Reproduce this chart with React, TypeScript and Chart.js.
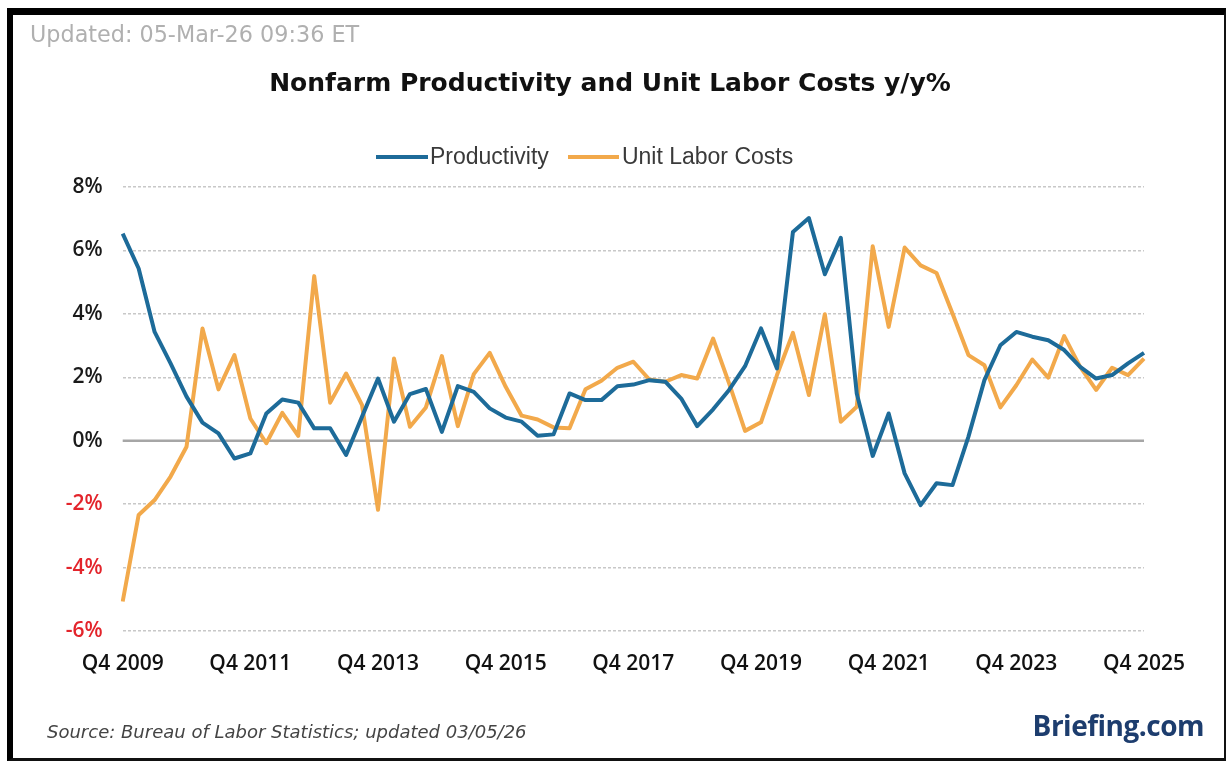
import React, { useEffect, useRef } from "react";
import { Chart, registerables } from "chart.js";

Chart.register(...registerables);

const startYear = 2009;
const endYear = 2025;
const quarters: string[] = [];
quarters.push("Q4 " + startYear);
for (let y = startYear + 1; y <= endYear; y++) {
  for (let q = 1; q <= 4; q++) quarters.push("Q" + q + " " + y);
}

const productivity = [
  6.53, 5.43, 3.43, 2.44, 1.39, 0.57, 0.23, -0.56, -0.4, 0.86, 1.3, 1.2, 0.39, 0.39, -0.45, 0.76,
  1.96, 0.6, 1.47, 1.63, 0.28, 1.72, 1.54, 1.02, 0.73, 0.6, 0.16, 0.2, 1.49, 1.28, 1.28, 1.72,
  1.77, 1.91, 1.86, 1.33, 0.46, 0.99, 1.6, 2.35, 3.54, 2.28, 6.58, 7.02, 5.25, 6.4, 1.49, -0.48,
  0.86, -1.03, -2.03, -1.34, -1.4, 0.13, 1.91, 3.01, 3.43, 3.28, 3.17, 2.86, 2.33, 1.96, 2.07, 2.44,
  2.77,
];

const unitLaborCosts = [
  -5.07, -2.34, -1.87, -1.13, -0.19, 3.54, 1.62, 2.7, 0.7, -0.08, 0.88, 0.15, 5.19, 1.2, 2.12, 1.12,
  -2.18, 2.59, 0.44, 1.05, 2.67, 0.46, 2.1, 2.77, 1.7, 0.79, 0.67, 0.42, 0.39, 1.62, 1.89, 2.3,
  2.49, 1.93, 1.86, 2.07, 1.96, 3.22, 1.81, 0.31, 0.58, 2.07, 3.4, 1.44, 3.99, 0.6, 1.07, 6.13,
  3.59, 6.09, 5.53, 5.29, 4.01, 2.7, 2.38, 1.05, 1.75, 2.56, 1.99, 3.3, 2.33, 1.6, 2.3, 2.07,
  2.59,
];

const seriesNames = ["Productivity", "Unit Labor Costs"];
const seriesColors = ["#1d6b99", "#f2a94b"];
const yMin = -6;
const yMax = 8;
const yStep = 2;
const tickEvery = 8;

const titleText = "Nonfarm Productivity and Unit Labor Costs y/y%";
const updatedText = "Updated: 05-Mar-26 09:36 ET";
const sourceText = "Source: Bureau of Labor Statistics; updated 03/05/26";

const zeroLinePlugin = {
  id: "zeroLine",
  beforeDatasetsDraw(chart: any) {
    const { ctx, chartArea, scales } = chart;
    const y = scales.y.getPixelForValue(0);
    ctx.save();
    ctx.strokeStyle = "#a6a6a6";
    ctx.lineWidth = 2.5;
    ctx.beginPath();
    ctx.moveTo(chartArea.left, y);
    ctx.lineTo(chartArea.right, y);
    ctx.stroke();
    ctx.restore();
  },
};

export default function App() {
  const ref = useRef<HTMLCanvasElement>(null);

  useEffect(() => {
    document.body.style.margin = "0";
    const chart = new Chart(ref.current as HTMLCanvasElement, {
      type: "line",
      data: {
        labels: quarters,
        datasets: [
          {
            label: seriesNames[0],
            data: productivity,
            borderColor: seriesColors[0],
            backgroundColor: seriesColors[0],
            borderWidth: 4,
            pointRadius: 0,
            tension: 0,
            borderJoinStyle: "round",
          },
          {
            label: seriesNames[1],
            data: unitLaborCosts,
            borderColor: seriesColors[1],
            backgroundColor: seriesColors[1],
            borderWidth: 4,
            pointRadius: 0,
            tension: 0,
            borderJoinStyle: "round",
          },
        ],
      },
      options: {
        animation: false,
        responsive: false,
        maintainAspectRatio: false,
        layout: { padding: { left: 0, top: 187, right: 84, bottom: 82 } },
        plugins: {
          legend: { display: false },
          title: { display: false },
          tooltip: { enabled: false },
        },
        scales: {
          x: {
            type: "category",
            grid: { display: false, drawTicks: false },
            border: { display: false },
            ticks: {
              autoSkip: false,
              maxRotation: 0,
              minRotation: 0,
              padding: 20,
              color: "#111111",
              font: { family: "Open Sans", size: 21, weight: "600" },
              callback: (_v: any, i: number) => (i % tickEvery === 0 ? quarters[i] : ""),
            },
            afterFit: (s: any) => {
              s.height = 50;
              s.paddingLeft = 0;
              s.paddingRight = 0;
            },
          },
          y: {
            min: yMin,
            max: yMax,
            grid: {
              drawTicks: false,
              color: (c: any) => (c.tick && c.tick.value === 0 ? "rgba(0,0,0,0)" : "#c8c8c8"),
              lineWidth: 1.5,
            },
            border: { display: false, dash: [3, 2] },
            ticks: {
              stepSize: yStep,
              padding: 20,
              color: (c: any) => (c.tick && c.tick.value < 0 ? "#e3242b" : "#1a1a1a"),
              font: { family: "Open Sans", size: 21, weight: "600" },
              callback: (v: any) => v + "%",
            },
            afterFit: (s: any) => {
              s.width = 122.7;
              s.paddingTop = 0;
              s.paddingBottom = 0;
            },
          },
        },
      },
      plugins: [zeroLinePlugin],
    });
    return () => chart.destroy();
  }, []);

  const abs: React.CSSProperties = { position: "absolute", whiteSpace: "nowrap", lineHeight: 1 };

  return (
    <div style={{ position: "fixed", left: 0, top: 0, width: 1228, height: 763, background: "#fff", overflow: "hidden" }}>
      <div
        style={{
          position: "absolute",
          left: 7,
          top: 8,
          width: 1226 - 7 - 6 - 2,
          height: 761 - 8 - 7 - 3,
          borderLeft: "6px solid #000",
          borderTop: "7px solid #000",
          borderRight: "2px solid #111",
          borderBottom: "3px solid #111",
        }}
      />
      <canvas ref={ref} width={1228} height={763} style={{ position: "absolute", left: 0, top: 0, width: 1228, height: 763 }} />
      <div style={{ ...abs, left: 30, top: 23, fontFamily: "DejaVu Sans", fontSize: 22.3, color: "#b0b0b0" }}>{updatedText}</div>
      <div style={{ ...abs, left: 0, width: 1220, top: 70, textAlign: "center", fontFamily: "DejaVu Sans", fontWeight: "bold", fontSize: 25, color: "#111" }}>
        {titleText}
      </div>
      <div style={{ ...abs, left: 376, top: 145, display: "flex", alignItems: "center", fontFamily: "Liberation Sans", fontSize: 23, color: "#3a3a3a" }}>
        <span style={{ display: "inline-block", width: 52, height: 4, background: seriesColors[0], marginRight: 2 }} />
        <span>{seriesNames[0]}</span>
        <span style={{ display: "inline-block", width: 51, height: 4, background: seriesColors[1], marginLeft: 19, marginRight: 3 }} />
        <span>{seriesNames[1]}</span>
      </div>
      <div style={{ ...abs, left: 47, top: 723, fontFamily: "DejaVu Sans", fontStyle: "italic", fontSize: 18, color: "#444" }}>{sourceText}</div>
      <div style={{ ...abs, right: 1228 - 1204, top: 711, fontFamily: "Open Sans", fontWeight: 700, fontSize: 28, color: "#1d3d6e", letterSpacing: -0.5 }}>
        Briefing.com
      </div>
    </div>
  );
}
